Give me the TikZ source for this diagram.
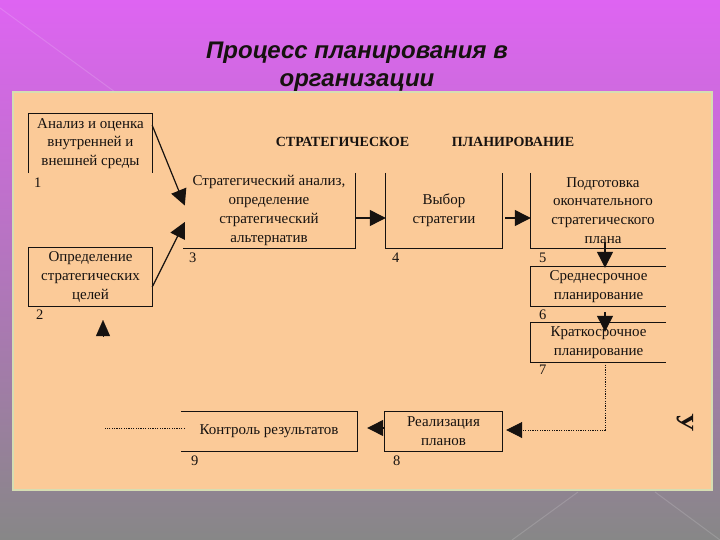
\documentclass[tikz,border=0pt]{standalone}
\usepackage{fontspec}
\setmainfont{Liberation Serif}
\newfontfamily\titlefont{Liberation Sans}
\usetikzlibrary{arrows.meta,calc}
\definecolor{peach}{HTML}{FBCA98}
\definecolor{ink}{HTML}{161210}
\definecolor{rim}{HTML}{D6DDB2}
\definecolor{bgtop}{HTML}{DE64F2}
\definecolor{bgmid}{HTML}{A27AAB}
\definecolor{bgbot}{HTML}{878787}
\begin{document}
\begin{tikzpicture}[x=1pt,y=-1pt,
  box/.style={inner sep=0pt, align=center, text=ink, font=\fontsize{15}{18.7}\selectfont},
  num/.style={inner sep=0pt, text=ink, font=\fontsize{14.5}{16}\selectfont},
  edge/.style={draw=ink, line width=1.2pt},
  arr/.style={draw=ink, line width=1.2pt, -{Triangle[length=16pt,width=16pt]}},
  dots/.style={draw=ink, line width=0.9pt, dash pattern=on 1.2pt off 1.2pt},
  head/.style={inner sep=0pt, text=ink, font=\bfseries\fontsize{14}{15}\selectfont}]
% background
\useasboundingbox (0,0) rectangle (720,540);
\shade[top color=bgtop, middle color=bgmid, bottom color=bgbot] (0,0) rectangle (720,540);
\draw[white, opacity=0.15, line width=1pt] (0,8) -- (115,92);
\draw[white, opacity=0.15, line width=1pt] (512,540) -- (578,492);
\draw[white, opacity=0.15, line width=1pt] (655,492) -- (720,540);
% panel
\draw[draw=rim, line width=2.5pt, fill=peach] (13,92) rectangle (712,490);
% title
\node[anchor=base, inner sep=0pt, text=ink, font=\titlefont\bfseries\itshape\fontsize{24}{28}\selectfont] (t1) at (357,59) {Процесс планирования в};
\node[anchor=base, inner sep=0pt, text=ink, font=\titlefont\bfseries\itshape\fontsize{24}{28}\selectfont] (t2) at (357,87) {организации};
% header
\node[head] (h1) at (342.5,142) {СТРАТЕГИЧЕСКОЕ};
\node[head] (h2) at (513,142) {ПЛАНИРОВАНИЕ};
% boxes
\node[box, minimum width=123pt, minimum height=59pt] (b1) at (90.5,143.5) {Анализ и оценка\\внутренней и\\внешней среды};
\node[box, minimum width=123pt, minimum height=58pt] (b2) at (90.5,277) {Определение\\стратегических\\целей};
\node[box, minimum width=172pt, minimum height=75pt] (b3) at (269,210.5) {Стратегический анализ,\\определение\\стратегический\\альтернатив};
\node[box, minimum width=116pt, minimum height=75pt] (b4) at (444,210.5) {Выбор\\стратегии};
\node[box, minimum width=135pt, minimum height=75pt] (b5) at (598.5,210.5) {\hspace*{9pt}Подготовка\\\hspace*{9pt}окончательного\\\hspace*{9pt}стратегического\\\hspace*{9pt}плана};
\node[box, minimum width=135pt, minimum height=39pt] (b6) at (598.5,286.5) {Среднесрочное\\планирование};
\node[box, minimum width=135pt, minimum height=39pt] (b7) at (598.5,342.5) {Краткосрочное\\планирование};
\node[box, minimum width=117pt, minimum height=39pt] (b8) at (443.5,431.5) {Реализация\\планов};
\node[box, minimum width=176pt, minimum height=39pt] (b9) at (269,431.5) {\raisebox{3pt}{Контроль результатов}};
% outlines
\draw[edge] (b1.south west) -- (b1.north west) -- (b1.north east) -- (b1.south east);
\draw[edge] (b2.south west) rectangle (b2.north east);
\draw[edge] (b3.north east) -- (b3.south east) -- (b3.south west);
\draw[edge] (b4.north west) -- (b4.south west) -- (b4.south east) -- (b4.north east);
\draw[edge] (b5.north west) -- (b5.south west) -- (b5.south east);
\draw[edge] (b6.north east) -- (b6.north west) -- (b6.south west) -- (b6.south east);
\draw[edge] (b7.north east) -- (b7.north west) -- (b7.south west) -- (b7.south east);
\draw[edge] (b8.south west) rectangle (b8.north east);
\draw[edge] (b9.north west) -- (b9.north east) -- (b9.south east) -- (b9.south west);
% numbers
\node[num] (n1) at ($(b1.south west)+(9,10)$) {1};
\node[num] (n2) at ($(b2.south west)+(11,8)$) {2};
\node[num] (n3) at ($(b3.south west)+(10,10)$) {3};
\node[num] (n4) at ($(b4.south west)+(10,10)$) {4};
\node[num] (n5) at ($(b5.south west)+(12,10)$) {5};
\node[num] (n6) at ($(b6.south west)+(12,9)$) {6};
\node[num] (n7) at ($(b7.south west)+(12,8)$) {7};
\node[num] (n8) at ($(b8.south west)+(12,10)$) {8};
\node[num] (n9) at ($(b9.south west)+(14,10)$) {9};
% connectors
\draw[arr] ([yshift=-11.5pt]b1.north east) -- ([yshift=5pt,xshift=2pt]b3.west);
\draw[arr] ([yshift=-10pt]b2.east) -- ([yshift=-11.5pt,xshift=2pt]b3.west);
\draw[arr] ([yshift=-7.5pt]b3.east) -- ([yshift=-7.5pt]b4.west);
\draw[arr] ([yshift=-7.5pt,xshift=3pt]b4.east) -- ([yshift=-7.5pt]b5.west);
\draw[arr] ([xshift=6.5pt,yshift=6pt]b5.south) -- ([xshift=6.5pt,yshift=-1pt]b6.north);
\draw[arr] ([xshift=6.5pt,yshift=-6pt]b6.south) -- ([xshift=6.5pt,yshift=-9pt]b7.north);
\draw[dots, -{Triangle[length=16pt,width=16pt]}] ([xshift=6.5pt]b7.south) |- ([xshift=4pt,yshift=1.5pt]b8.east);
\draw[arr, shorten >=10pt] ([yshift=3.5pt]b8.west) -- ([yshift=3.5pt]b9.east);
\coordinate (d9) at (105,428);
\draw[dots] ([xshift=4pt,yshift=3.5pt]b9.west) -- (d9);
\coordinate (ta) at (103,336);
\coordinate (tb) at (103,320);
\draw[draw=ink, line width=0.1pt, -{Triangle[length=16pt,width=14pt]}] (ta) -- (tb);
% side mark
\node[inner sep=0pt, text=ink, rotate=-90, font=\bfseries\fontsize{25}{26}\selectfont] (ym) at (685,423) {У};
\end{tikzpicture}
\end{document}
